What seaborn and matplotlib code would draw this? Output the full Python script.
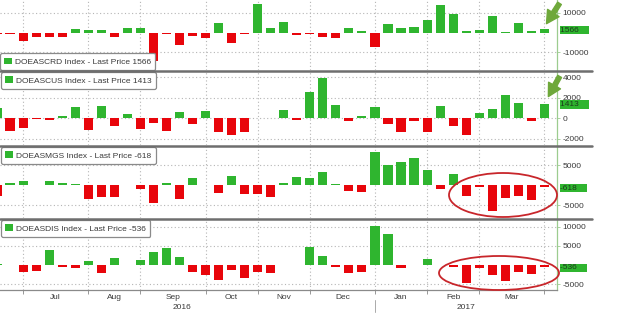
import numpy as np
import pandas as pd
import matplotlib
matplotlib.use("Agg")
import matplotlib.pyplot as plt
import seaborn as sns
from matplotlib.patches import Patch, Ellipse, FancyArrowPatch
from matplotlib.lines import Line2D
import matplotlib.transforms as mtransforms

# ---- data (weekly EIA inventory changes, week ending Jun 10 2016 .. Mar 31 2017) ----
weeks = list(range(43))
crude = [-900, -900, -4100, -2200, -2500, -2300, 1700, 1400, 1100, -2500, 2500, 2300,
         -14500, -600, -6200, -1900, -3000, 4900, -5200, -550, 14400, 2400, 5300, -1300,
         -900, -2400, -2600, 2300, 600, -7100, 4100, 2300, 2800, 6500, 13800, 9500,
         600, 1500, 8200, 200, 5000, 900, 1566]
cushing = [1000, -1300, -1000, -100, -200, 200, 1100, -1200, 1200, -800, 400, -1100,
           -450, -1300, 550, -600, 650, -1350, -1700, -1400, 50, 30, 750, -200,
           2500, 3950, 1300, -250, 150, 1080, -580, -1400, -320, -1320, 1220, -750,
           -1620, 500, 880, 2200, 1500, -250, 1413]
gasoline = [-2800, 400, 1100, 100, 900, 600, 300, -3600, -3000, -3000, 50, -900,
            -4400, 500, -3600, 1800, 50, -2000, 2200, -2300, -2300, -2900, 600, 2000,
            1800, 3150, 300, -1400, -1650, 8200, 4900, 5800, 6700, 3800, -900, 2750,
            -2650, -400, -6600, -3150, -2750, -3700, -618]
distillate = [200, 100, -1900, -1600, 4000, -400, -900, 1100, -2100, 1900, 100, 1400,
              3300, 4400, 2000, -1900, -2500, -3800, -1300, -3400, -1900, -2100, 100, 100,
              4800, 2400, -600, -2200, -1700, 10100, 8200, -900, 100, 1600, 50, -600,
              -4700, -900, -2600, -4100, -1700, -2400, -536]
tickers = ["DOEASCRD", "DOEASCUS", "DOEASMGS", "DOEASDIS"]
month_labels = ["Jul", "Aug", "Sep", "Oct", "Nov", "Dec", "Jan", "Feb", "Mar"]
month_end_weeks = [2, 7, 11, 16, 20, 24, 29, 33, 37, 42]
year_labels = ["2016", "2017"]
year_label_pos = [14.2, 36.0]
year_break = 29

series = [crude, cushing, gasoline, distillate]
ylims = [(-19000, 16500), (-2630, 4585), (-8250, 9750), (-6510, 11980)]
yticks = [[-10000, 10000], [-2000, 0, 2000, 4000], [-5000, 5000], [-5000, 5000, 10000]]

GREEN = "#2fb52f"
RED = "#e8050b"
GRID = "#b5b5b5"
TXT = "#3a3a3a"

sns.set_theme(style="white")
plt.rcParams["font.family"] = ["Liberation Sans", "DejaVu Sans"]

W, H = 640, 323
fig = plt.figure(figsize=(6.4, 3.23), dpi=100)
fig.patch.set_facecolor("white")

def fx(px):
    return px / W

def fy(py):
    return 1 - py / H

panel_px = [(0, 70), (71, 145), (146, 218), (219, 290)]
axes = []
for k, (top, bot) in enumerate(panel_px):
    ax = fig.add_axes([0, fy(bot), fx(557), (bot - top) / H])
    vals = series[k]
    df = pd.DataFrame({"week": weeks, "value": vals,
                       "sign": ["up" if v >= 0 else "down" for v in vals]})
    sns.barplot(data=df, x="week", y="value", hue="sign", order=weeks,
                palette={"up": GREEN, "down": RED}, dodge=False, width=0.7,
                saturation=1, legend=False, ax=ax, zorder=3,
                edgecolor="none", linewidth=0)
    ax.set_xlim(0.23, 42.97)
    ax.set_ylim(*ylims[k])
    ax.set_xlabel("")
    ax.set_ylabel("")
    for s in ["top", "left", "bottom"]:
        ax.spines[s].set_visible(False)
    ax.spines["right"].set_color("#9ccc8f")
    ax.spines["right"].set_linewidth(0.9)
    ax.yaxis.tick_right()
    ax.set_yticks(yticks[k])
    ax.set_yticklabels([str(t) for t in yticks[k]])
    ax.tick_params(axis="y", right=True, length=2, width=0.6, color="#9ccc8f",
                   labelsize=6, labelcolor=TXT, pad=2)
    ax.set_xticks(month_end_weeks)
    ax.grid(True, axis="both", linestyle=(0, (1, 2.2)), color=GRID, linewidth=0.8, zorder=0)
    ax.set_axisbelow(True)
    if k < 3:
        ax.tick_params(axis="x", bottom=False, labelbottom=False)
    # legend box
    last = vals[-1]
    h = [Patch(facecolor=GREEN, edgecolor="none")]
    lab = [f"{tickers[k]} Index - Last Price {last}"]
    loc = "lower left" if k == 0 else "upper left"
    leg = ax.legend(h, lab, loc=loc, fontsize=6, frameon=True, fancybox=True,
                    handlelength=0.9, handleheight=0.9, handletextpad=0.4,
                    borderpad=0.5, borderaxespad=0.15 if k else 0.0)
    leg.get_frame().set_edgecolor("#8a8a8a")
    leg.get_frame().set_linewidth(0.9)
    leg.get_frame().set_alpha(1)
    leg.set_zorder(10)
    for t in leg.get_texts():
        t.set_color(TXT)
    # last value label
    tr = mtransforms.blended_transform_factory(ax.transAxes, ax.transData)
    ax.annotate(f"{last}    ", xy=(1, last), xycoords=tr, xytext=(2.3, -0.6),
                textcoords="offset points", ha="left", va="center", fontsize=6,
                color="#1d3a1d", annotation_clip=False, zorder=20,
                bbox=dict(boxstyle="square,pad=0.08", fc=GREEN, ec="none"))
    axes.append(ax)

# bottom axis: month ticks and labels
ax4 = axes[-1]
ax4.tick_params(axis="x", bottom=True, length=3, width=0.6, color="#888888",
                labelbottom=False)
mids = [(month_end_weeks[i] + month_end_weeks[i + 1]) / 2 for i in range(len(month_labels))]
ax4.set_xticks(mids, minor=True)
ax4.set_xticklabels(month_labels, minor=True)
ax4.tick_params(axis="x", which="minor", length=0, labelsize=6, labelcolor=TXT, pad=3)
ax4.spines["bottom"].set_visible(True)
ax4.spines["bottom"].set_color("#8a8a8a")
ax4.spines["bottom"].set_linewidth(0.9)
trx = mtransforms.blended_transform_factory(ax4.transData, ax4.transAxes)
for lbl, pos in zip(year_labels, year_label_pos):
    ax4.text(pos, -0.245, lbl, transform=trx, ha="center", va="center",
             fontsize=6, color=TXT)
ax4.add_line(Line2D([year_break, year_break], [-0.14, -0.31], transform=trx,
                    color="#aaaaaa", lw=0.7, clip_on=False))

# panel separators
for py in [70.5, 145.5, 218.5]:
    fig.add_artist(Line2D([0, fx(592)], [fy(py), fy(py)], transform=fig.transFigure,
                          color="#6e6e6e", lw=1.8, zorder=5))

# green arrows
for (x0, y0, x1, y1) in [(561, 1, 545, 26), (561, 74, 547, 99)]:
    fig.add_artist(FancyArrowPatch((fx(x0), fy(y0)), (fx(x1), fy(y1)),
                                   transform=fig.transFigure,
                                   arrowstyle="simple,tail_width=0.45,head_width=1.4,head_length=1.3",
                                   mutation_scale=7, color="#6ea83a", zorder=30))

# red ellipses
for (cx, cy, w, h) in [(503, 195, 108, 44), (499, 273, 120, 34)]:
    fig.add_artist(Ellipse((fx(cx), fy(cy)), w / W, h / H, transform=fig.transFigure,
                           fill=False, edgecolor="#c8262b", lw=1.3, zorder=25))

fig.savefig("out.png", dpi=100, facecolor="white")
